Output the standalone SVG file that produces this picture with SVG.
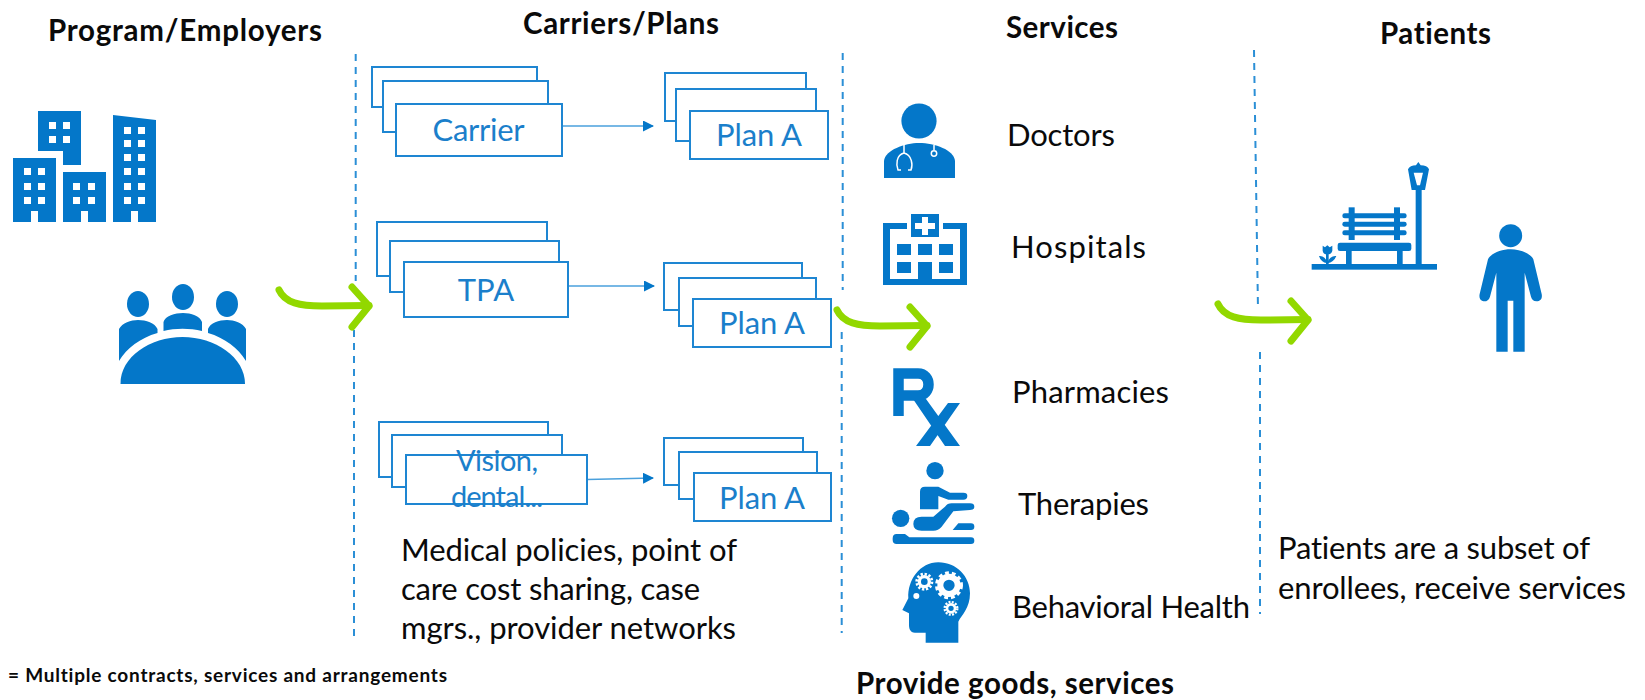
<svg xmlns="http://www.w3.org/2000/svg" xmlns:xlink="http://www.w3.org/1999/xlink" width="1645" height="700" viewBox="0 0 1645 700">
<style>
text{font-family:Lato,Carlito,"Open Sans",sans-serif;fill:#0a0a0a;font-variant-ligatures:none}
.h{font-size:29.500px;font-weight:700}
.t{font-size:31px}
.b{font-size:31px;fill:#1b7fcb;text-anchor:middle}
.box{fill:#fff;stroke:#1e86d2;stroke-width:2}
.dash{fill:none;stroke:#2b8fd6;stroke-width:2;stroke-dasharray:7 6}
.thin{fill:none;stroke:#4aa0dc;stroke-width:1.4}
.head{fill:#0477c9}
.i{fill:#0477c9}
.w{fill:#fff}
.g{fill:none;stroke:#92d800;stroke-width:7;stroke-linecap:round;stroke-linejoin:round}
</style>
<defs>
<g id="green"><path class="g" d="M279 290C285 303 300 306 322 306L369 305.500"/><path class="g" d="M352 287L369 306L352 327"/></g>
<marker id="ah" markerUnits="userSpaceOnUse" markerWidth="11" markerHeight="11" refX="10" refY="5.500" orient="auto"><path class="head" d="M0 0L11 5.500L0 11Z"/></marker>
</defs>
<g id="connectors">
<path class="dash" d="M355.700 54V281"/><path class="dash" d="M354 330V642"/>
<path class="dash" d="M842.700 53V290"/><path class="dash" d="M841.700 332V633"/>
<path class="dash" d="M1254 50L1258 310"/><path class="dash" d="M1260 352V614"/>
<path class="thin" marker-end="url(#ah)" d="M562 126H653"/>
<path class="thin" marker-end="url(#ah)" d="M568 286H654"/>
<path class="thin" marker-end="url(#ah)" d="M587 479.500L653 478"/>
<use xlink:href="#green" href="#green"/>
<use xlink:href="#green" href="#green" x="558" y="20"/>
<use xlink:href="#green" href="#green" x="939" y="14"/>
</g>
<g id="col-headers">
<text class="h" x="48" y="41" textLength="274">Program/Employers</text>
<text class="h" x="523" y="34" textLength="196">Carriers/Plans</text>
<text class="h" x="1006" y="38" textLength="112">Services</text>
<text class="h" x="1380" y="44" textLength="111">Patients</text>
</g>
<g id="buildings">
<path class="i" d="M38 111H81V165H63V151H38Z"/>
<path class="i" d="M13 158H56V222H38V211H31V222H13Z"/>
<path class="i" d="M63 172H106V222H88V211H81V222H63Z"/>
<path class="i" d="M113 115L156 120V222H138V211H131V222H113Z"/>
<path class="w" d="M49 122h7v7h-7zM63 122h7v7h-7zM49 136h7v7h-7zM63 136h7v7h-7zM24 168h7v7h-7zM38 168h7v7h-7zM24 183h7v7h-7zM38 183h7v7h-7zM24 197h7v7h-7zM38 197h7v7h-7zM73 183h7v7h-7zM88 183h7v7h-7zM73 197h7v7h-7zM88 197h7v7h-7zM124 127h7v7h-7zM138 127h7v7h-7zM124 140h7v7h-7zM138 140h7v7h-7zM124 154h7v7h-7zM138 154h7v7h-7zM124 168h7v7h-7zM138 168h7v7h-7zM124 183h7v7h-7zM138 183h7v7h-7zM124 197h7v7h-7zM138 197h7v7h-7z"/>
</g>
<g id="meeting">
<ellipse class="i" cx="138" cy="304" rx="11" ry="13"/><ellipse class="i" cx="183" cy="297" rx="11" ry="13"/><ellipse class="i" cx="227" cy="304" rx="11" ry="13"/>
<path class="i" d="M119 361V329C122 323 131 320 138 320C146 320 155 323 157.500 329V333C140 338 127 348 119 361Z"/>
<path class="i" d="M246 361V329C243 323 234 320 227 320C219 320 210 323 208 329V333C225 338 238 348 246 361Z"/>
<path class="i" d="M163.500 331V322C165 316 175 313 183 313C191 313 200 316 202 322V331C190 328 175 328 163.500 331Z"/>
<path class="i" d="M120.500 384C120 357 150 337 182.500 337C215 337 245 357 245 384Z"/>
</g>
<g id="carrier">
<rect class="box" x="372" y="67" width="165" height="40"/><rect class="box" x="383" y="81" width="165" height="51"/><rect class="box" x="396" y="104" width="166" height="52"/>
<text class="b" x="478.500" y="141" textLength="92">Carrier</text>
</g>
<g id="plan-a-1">
<rect class="box" x="665" y="73" width="141" height="48"/><rect class="box" x="676" y="89" width="140" height="52"/><rect class="box" x="690" y="111" width="138" height="48"/>
<text class="b" x="759" y="146" textLength="86">Plan A</text>
</g>
<g id="tpa">
<rect class="box" x="377" y="222" width="170" height="54"/><rect class="box" x="390" y="241" width="169" height="51"/><rect class="box" x="404" y="262" width="164" height="55"/>
<text class="b" x="486" y="301">TPA</text>
</g>
<g id="plan-a-2">
<rect class="box" x="664" y="263" width="138" height="47"/><rect class="box" x="679" y="278" width="137" height="48"/><rect class="box" x="693" y="299" width="138" height="48"/>
<text class="b" x="762" y="334" textLength="86">Plan A</text>
</g>
<g id="vision">
<rect class="box" x="379" y="422" width="169" height="55"/><rect class="box" x="392" y="435" width="170" height="52"/><rect class="box" x="406" y="455" width="181" height="49"/>
<text class="b" style="font-size:29px" x="497" y="471" textLength="82">Vision,</text><text class="b" style="font-size:29px" x="497" y="507" textLength="92">dental...</text>
</g>
<g id="plan-a-3">
<rect class="box" x="664" y="438" width="139" height="47"/><rect class="box" x="679" y="452" width="138" height="47"/><rect class="box" x="694" y="473" width="137" height="48"/>
<text class="b" x="762" y="509" textLength="86">Plan A</text>
</g>
<g id="carrier-note">
<text class="t" x="401" y="561" textLength="336">Medical policies, point of</text>
<text class="t" x="401" y="600" textLength="299">care cost sharing, case</text>
<text class="t" x="401" y="639" textLength="335">mgrs., provider networks</text>
</g>
<g id="doctors">
<circle class="i" cx="919" cy="121" r="17.600"/>
<path class="i" d="M884 178V161C885 150 905 143 919 143C935 143 954 150 955 161V178Z"/>
<path d="M904 145V153C896 155 896 165 898 170H901M904 153C912 155 913 165 911 170H908M934 145V150" fill="none" stroke="#fff" stroke-width="1.500"/>
<circle cx="934" cy="153.500" r="2.700" fill="#0477c9" stroke="#fff" stroke-width="1.500"/>
<text class="t" x="1007" y="146" textLength="108">Doctors</text>
</g>
<g id="hospitals">
<rect class="i" x="883" y="223" width="84" height="62"/>
<rect class="w" x="890" y="229" width="70" height="50"/><rect class="w" x="907" y="223" width="36" height="6"/>
<rect class="i" x="911" y="214" width="28" height="23"/>
<path class="w" d="M922 217h6v6h7v6h-7v6h-6v-6h-7v-6h7z"/>
<path class="i" d="M897 244h14v11h-14zM918 244h14v11h-14zM939 244h14v11h-14zM897 262h14v11h-14zM918 262h14v17h-14zM939 262h14v11h-14z"/>
<text class="t" x="1011" y="258" textLength="135">Hospitals</text>
</g>
<g id="pharmacies">
<path d="M898.500 416V373.500H918C932 373.500 932 395.500 918 395.500H898.500" fill="none" stroke="#0477c9" stroke-width="10.500"/>
<path class="i" d="M913 399H926L960 446H945ZM948 403H960L930 446H916Z"/>
<text class="t" x="1012" y="403" textLength="157">Pharmacies</text>
</g>
<g id="therapies">
<g transform="translate(870 350) scale(.33333)">
<circle class="i" cx="195" cy="362" r="26"/><circle class="i" cx="92" cy="505" r="26"/>
<path class="i" d="M150 425Q150 410 165 410H205L240 428H280Q292 428 292 438Q292 449 280 449H235L205 438V478H150Z"/>
<path class="i" d="M130 522Q130 500 155 500H190L225 470Q232 460 245 460H300Q313 460 313 470Q313 480 300 480L250 484L215 530Q205 542 190 542H155Q130 542 130 522Z"/>
<path class="i" d="M265 520H303Q313 520 313 530Q313 540 303 540H248Z"/>
<path class="i" d="M68 565Q68 552 80 552H105L118 562H303Q313 562 313 572Q313 582 303 582H80Q68 582 68 570Z"/>
</g>
<text class="t" x="1018" y="515" textLength="131">Therapies</text>
</g>
<g id="behavioral">
<g transform="translate(870 350) scale(.33333)">
<path class="i" d="M205 637C260 637 300 680 300 730C300 775 275 795 265 815V878H167V848H135C120 848 117 835 117 825V790L97 780L115 745C112 690 150 637 205 637Z"/>
<g fill="none" stroke="#fff">
<circle cx="237" cy="706" r="26" stroke-width="18"/><circle cx="237" cy="706" r="36" stroke-width="12" stroke-dasharray="11 8.650"/>
<circle cx="163" cy="695" r="15" stroke-width="10"/><circle cx="163" cy="695" r="23" stroke-width="8" stroke-dasharray="7 5.040"/>
<circle cx="243" cy="775" r="12" stroke-width="8"/><circle cx="243" cy="775" r="19" stroke-width="7" stroke-dasharray="6 3.950"/>
</g>
<circle class="w" cx="139" cy="738" r="9"/>
</g>
<text class="t" x="1012" y="618" textLength="238">Behavioral Health</text>
</g>
<g id="bench" transform="translate(1190 140) scale(.33333)">
<rect class="i" x="365" y="372" width="376" height="17"/>
<rect class="i" x="677" y="150" width="18" height="225"/>
<path class="i" d="M654 88Q660 76 678 76L685 66L692 76Q712 76 717 88L705 150H665Z"/>
<path class="w" d="M671 98H699L690 136H681Z"/>
<rect class="i" x="443" y="308" width="221" height="25" rx="7"/>
<rect class="i" x="468" y="333" width="17" height="42"/><rect class="i" x="621" y="333" width="17" height="42"/>
<rect class="i" x="457" y="220" width="193" height="15" rx="7"/><rect class="i" x="457" y="245" width="193" height="15" rx="7"/><rect class="i" x="457" y="271" width="193" height="15" rx="7"/>
<rect class="i" x="476" y="202" width="18" height="98"/><rect class="i" x="612" y="202" width="18" height="98"/>
<rect class="i" x="408" y="340" width="8" height="35"/>
<path class="i" d="M398 317L405 322L412 316L419 322L427 317V332Q425 343 412 343Q399 343 398 332ZM387 348Q405 346 412 368Q420 346 439 348Q432 366 412 370Q392 366 387 348Z"/>
</g>
<g id="person" transform="translate(1190 140) scale(.33333)">
<circle class="i" cx="962" cy="287" r="34.500"/>
<path class="i" d="M962 328C990 328 1022 340 1030 358L1055 462C1058 478 1050 484 1040 484C1030 484 1025 478 1023 470L1004 398V635H970V482H953V635H919V398L900 470C897 480 890 484 884 484C873 484 866 475 869 462L894 358C902 340 934 328 962 328Z"/>
</g>
<g id="notes">
<text class="t" x="1278" y="559" textLength="312">Patients are a subset of</text>
<text class="t" x="1278" y="599" textLength="348">enrollees, receive services</text>
<text x="8" y="682" font-size="19" font-weight="700" textLength="439">= Multiple contracts, services and arrangements</text>
<text class="h" x="856" y="694" textLength="318">Provide goods, services</text>
</g>
</svg>
